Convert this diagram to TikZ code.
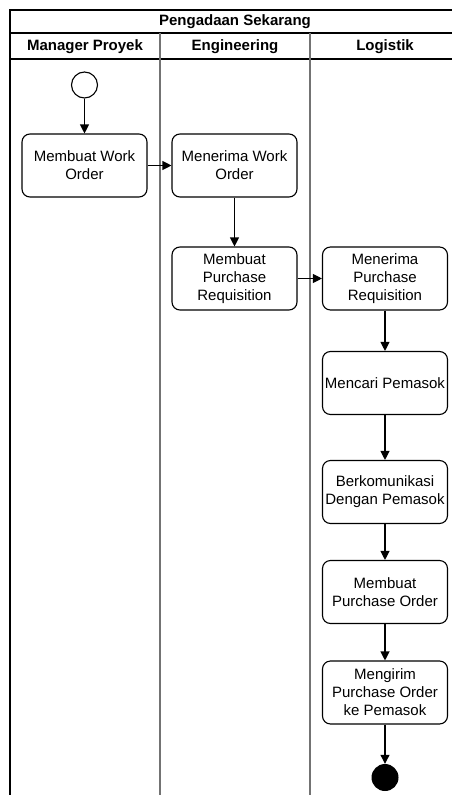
\documentclass[tikz,border=0pt]{standalone}
\usepackage{fontspec}
\setmainfont{Liberation Sans}
\usetikzlibrary{arrows.meta}
\begin{document}
\begin{tikzpicture}[x=1pt,y=-1pt,
  act/.style={draw, rounded corners=8pt, line width=1.1pt, minimum width=125pt, minimum height=63pt, align=center, inner sep=0pt, font=\fontsize{15}{18}\selectfont},
  flow/.style={line width=1.1pt, -{Triangle[length=9pt,width=9pt]}},
  head/.style={font=\bfseries\fontsize{15}{18}\selectfont, inner sep=0pt},
  lane/.style={draw=black!55, line width=1.2pt},
  frame/.style={draw=black, line width=1.3pt}]
\useasboundingbox (0,0) rectangle (452,795);
% frame
\draw[frame] (10,795) -- (10,10) -- (452,10);
\draw[frame] (10,33) -- (452,33);
\draw[frame] (10,59) -- (452,59);
\draw[lane] (160,33) -- (160,795);
\draw[lane] (310,33) -- (310,795);
% headers
\node[head] (title) at (235,21.5) {Pengadaan Sekarang};
\node[head] (h1) at (85,46.5) {Manager Proyek};
\node[head] (h2) at (235,46.5) {Engineering};
\node[head] (h3) at (385,46.5) {Logistik};
% nodes
\node[draw, circle, line width=1.1pt, minimum size=26pt, inner sep=0pt] (start) at (84.5,85) {};
\node[act] (b1) at (84.5,165.5) {Membuat Work\\Order};
\node[act] (b2) at (234.5,165.5) {Menerima Work\\Order};
\node[act] (b3) at (234.5,278.5) {Membuat\\Purchase\\Requisition};
\node[act] (b4) at (385,278.5) {Menerima\\Purchase\\Requisition};
\node[act] (b5) at (385,383) {Mencari Pemasok};
\node[act] (b6) at (385,492) {Berkomunikasi\\Dengan Pemasok};
\node[act] (b7) at (385,592) {Membuat\\Purchase Order};
\node[act] (b8) at (385,692.5) {Mengirim\\Purchase Order\\ke Pemasok};
\node[circle, fill=black, minimum size=27pt, inner sep=0pt] (end) at (385,777.5) {};
% connectors
\draw[flow] (start) -- (b1);
\draw[flow] (b1) -- (b2);
\draw[flow] (b2) -- (b3);
\draw[flow] (b3) -- (b4);
\draw[flow] (b4) -- (b5);
\draw[flow] (b5) -- (b6);
\draw[flow] (b6) -- (b7);
\draw[flow] (b7) -- (b8);
\draw[flow] (b8) -- (end);
\end{tikzpicture}
\end{document}
